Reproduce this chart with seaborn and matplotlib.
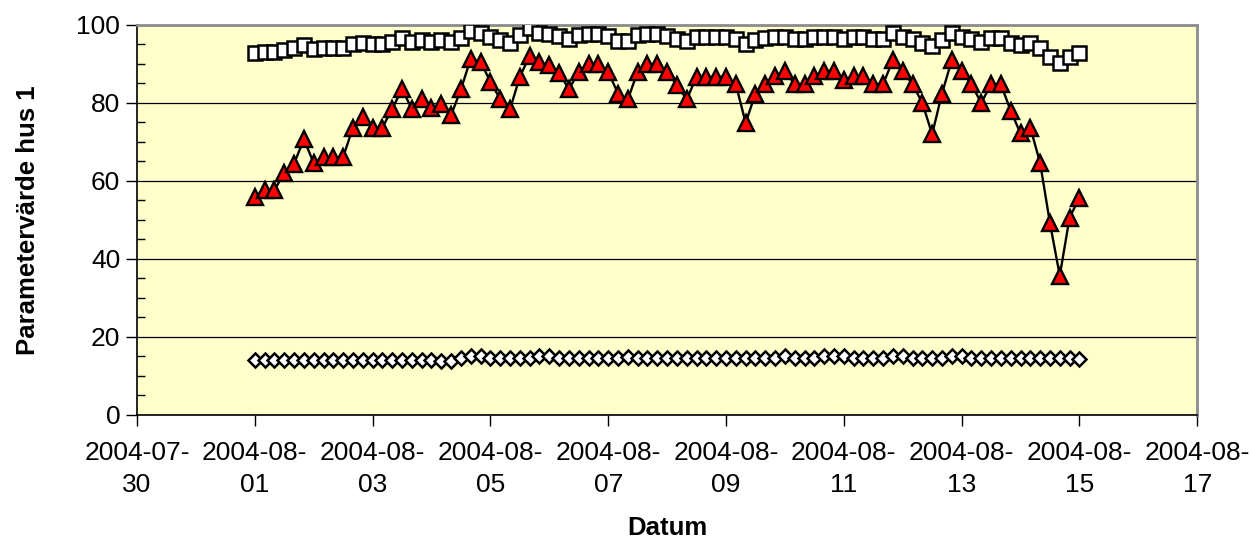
import numpy as np
import pandas as pd
import matplotlib
matplotlib.use("Agg")
import matplotlib.pyplot as plt
from matplotlib.ticker import MultipleLocator
import seaborn as sns

# Measurements every 4 hours, 2004-08-01 00:00 .. 2004-08-15 00:00
timestamps = pd.date_range("2004-08-01", "2004-08-15", freq="4h")

series_square = [
    92.7, 93.1, 93.1, 93.6, 94.0, 94.9, 93.9, 94.2, 94.2, 94.2,
    95.1, 95.5, 95.0, 95.0, 95.7, 96.6, 95.7, 96.1, 95.7, 96.1,
    95.7, 96.6, 98.5, 97.9, 97.0, 96.1, 95.5, 97.4, 99.3, 98.0,
    97.6, 97.2, 96.4, 97.4, 97.7, 97.7, 97.2, 96.0, 96.0, 97.4,
    97.7, 97.7, 97.2, 96.4, 96.0, 97.0, 97.0, 97.0, 97.0, 96.4,
    95.0, 96.1, 96.6, 97.0, 97.0, 96.4, 96.4, 97.0, 97.0, 97.0,
    96.4, 97.0, 97.0, 96.4, 96.4, 97.9, 97.0, 96.4, 95.5, 94.6,
    96.1, 97.9, 97.0, 96.4, 95.7, 96.6, 96.6, 95.5, 94.9, 95.3,
    94.0, 91.9, 90.2, 91.9, 92.7,
]

series_triangle = [
    56.0, 57.6, 57.6, 62.1, 64.4, 70.7, 64.6, 66.1, 66.1, 66.1,
    73.7, 76.4, 73.7, 73.7, 78.5, 83.5, 78.5, 81.0, 78.6, 79.7,
    76.9, 83.5, 91.4, 90.6, 85.4, 81.0, 78.4, 86.7, 92.1, 90.4,
    89.7, 87.8, 83.5, 88.0, 90.0, 90.0, 88.0, 82.4, 80.9, 88.0,
    90.0, 90.0, 88.0, 84.6, 80.9, 86.7, 86.7, 86.7, 86.7, 84.8,
    74.9, 82.4, 84.8, 86.9, 88.2, 84.8, 84.8, 86.9, 88.2, 88.2,
    86.0, 86.9, 86.9, 84.8, 84.8, 91.0, 88.2, 84.8, 80.0, 72.0,
    82.4, 91.0, 88.2, 84.8, 80.0, 84.8, 84.8, 78.0, 72.2, 73.7,
    64.6, 49.2, 35.7, 50.6, 55.7,
]

series_diamond = [
    14.1, 14.1, 14.1, 14.1, 14.1, 14.1, 14.1, 14.1, 14.1, 14.1,
    14.1, 14.1, 14.1, 14.1, 14.1, 14.1, 14.1, 14.1, 14.1, 13.7,
    13.7, 14.6, 15.0, 15.0, 14.6, 14.6, 14.6, 14.6, 14.6, 15.0,
    15.0, 14.6, 14.6, 14.6, 14.6, 14.6, 14.6, 14.6, 14.9, 14.6,
    14.6, 14.6, 14.6, 14.6, 14.6, 14.6, 14.6, 14.6, 14.6, 14.6,
    14.6, 14.6, 14.6, 14.6, 15.2, 14.5, 14.5, 14.5, 15.0, 15.2,
    15.2, 14.5, 14.5, 14.5, 14.5, 15.2, 15.2, 14.5, 14.5, 14.5,
    14.5, 15.2, 15.2, 14.5, 14.5, 14.5, 14.5, 14.5, 14.5, 14.5,
    14.5, 14.5, 14.5, 14.5, 14.2,
]

tick_dates = ["2004-07-30", "2004-08-01", "2004-08-03", "2004-08-05", "2004-08-07",
              "2004-08-09", "2004-08-11", "2004-08-13", "2004-08-15", "2004-08-17"]
tick_labels = [d[:8] + "\n" + d[8:] for d in tick_dates]

sns.set_theme(style="white")
plt.rcParams["font.family"] = ["Liberation Sans", "DejaVu Sans"]

fig = plt.figure(figsize=(12.51, 5.43), dpi=100)
ax = fig.add_axes([0.1095, 0.236, 0.8475, 0.718])
ax.set_facecolor("#FFFFCC")

df = pd.DataFrame({"t": timestamps, "sq": series_square,
                   "tri": series_triangle, "dia": series_diamond})

sns.lineplot(data=df, x="t", y="sq", ax=ax, linestyle="none", marker="s",
             markersize=9.5, markerfacecolor="white", markeredgecolor="black",
             markeredgewidth=1.8, zorder=3)
sns.lineplot(data=df, x="t", y="tri", ax=ax, color="black", linewidth=1.7,
             marker="^", markersize=11, markerfacecolor="#FF0000",
             markeredgecolor="black", markeredgewidth=1.7, zorder=4)
sns.lineplot(data=df, x="t", y="dia", ax=ax, linestyle="none", marker="D",
             markersize=7.5, markerfacecolor="white", markeredgecolor="black",
             markeredgewidth=1.8, zorder=3)

ax.set_xlim(pd.Timestamp("2004-07-30"), pd.Timestamp("2004-08-17"))
ax.set_ylim(0, 100)

ax.set_xticks([pd.Timestamp(d) for d in tick_dates])
ax.set_xticklabels(tick_labels, fontsize=19, color="black", linespacing=1.4)
ax.yaxis.set_major_locator(MultipleLocator(20))
ax.yaxis.set_minor_locator(MultipleLocator(5))
ax.tick_params(axis="y", which="major", direction="out", length=8, width=1,
               color="black", left=True, labelsize=19, labelcolor="black", pad=4)
ax.tick_params(axis="y", which="minor", direction="in", length=6, width=1,
               color="black", left=True)
ax.tick_params(axis="x", which="major", direction="out", length=8, width=1,
               color="black", bottom=True, pad=11)

ax.grid(axis="y", which="major", color="black", linewidth=0.9)
ax.grid(axis="x", visible=False)
ax.set_axisbelow(True)

for side in ["top", "right"]:
    ax.spines[side].set_color("#8C8C8C")
    ax.spines[side].set_linewidth(2)
for side in ["left", "bottom"]:
    ax.spines[side].set_color("black")
    ax.spines[side].set_linewidth(1.2)

ax.set_xlabel("Datum", fontsize=18.5, fontweight="bold", color="black", labelpad=14)
ax.set_ylabel("Parametervärde hus 1", fontsize=18.5, fontweight="bold",
              color="black", labelpad=26)

fig.savefig("out.png", dpi=100, facecolor="white")
